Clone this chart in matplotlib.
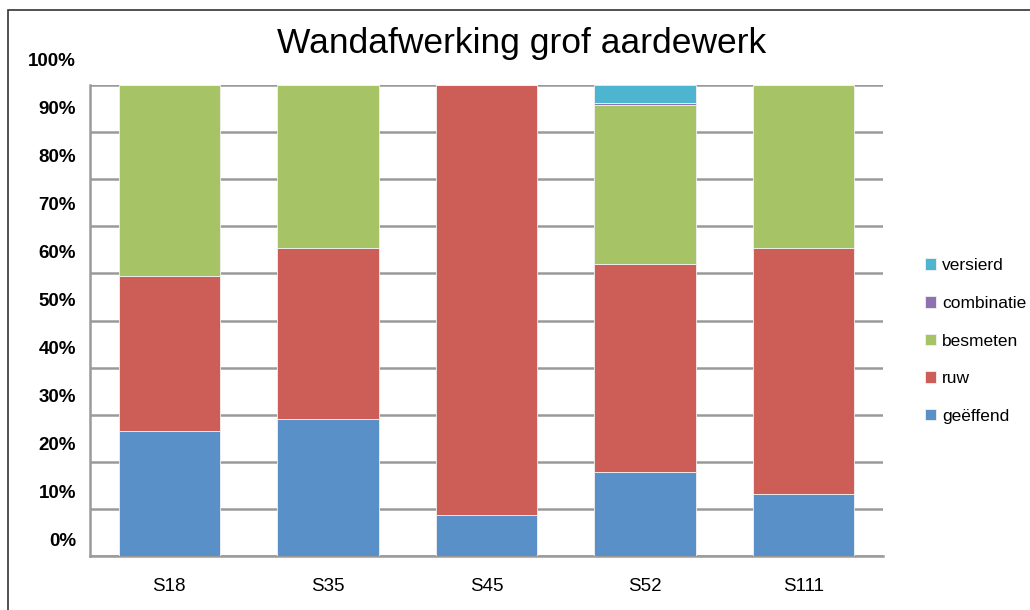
import numpy as np
import matplotlib
matplotlib.use('Agg')
import matplotlib.pyplot as plt
from matplotlib.transforms import ScaledTranslation
from matplotlib.patches import Rectangle

plt.rcParams['font.family'] = ['Liberation Sans', 'DejaVu Sans']

# Percentages per sample
categories = ['S18', 'S35', 'S45', 'S52', 'S111']
geeffend = [26.5, 29.1, 8.7, 17.8, 13.1]
ruw = [32.9, 36.2, 91.3, 44.2, 52.2]
besmeten = [40.6, 34.7, 0.0, 33.7, 34.7]
combinatie = [0.0, 0.0, 0.0, 0.4, 0.0]
versierd = [0.0, 0.0, 0.0, 3.9, 0.0]

series = [('geëffend', geeffend, '#5890C7'),
          ('ruw', ruw, '#CD5E57'),
          ('besmeten', besmeten, '#A6C465'),
          ('combinatie', combinatie, '#8E71B0'),
          ('versierd', versierd, '#4DB5CF')]

fig = plt.figure(figsize=(10.3, 6.1), dpi=100)
ax = fig.add_axes([90/1030, 54/610, 793/1030, 471/610])

x = np.arange(len(categories))
bottom = np.zeros(len(categories))
handles = []
for name, vals, col in series:
    b = ax.bar(x, vals, 0.64, bottom=bottom, color=col, label=name,
               edgecolor='#F2F2F2', linewidth=0.6, zorder=3)
    handles.append(b)
    bottom += np.array(vals)

yt = np.arange(0, 101, 10)
ax.set_xlim(-0.5, len(categories) - 0.5)
ax.set_ylim(0, 100)
ax.set_yticks(yt)
ax.set_yticklabels([f'{v}%' for v in yt], fontsize=13.5, fontweight='bold')
ax.set_xticks(x)
ax.set_xticklabels(categories, fontsize=13.5)
ax.tick_params(axis='both', length=0)
ax.tick_params(axis='y', pad=10)
ax.tick_params(axis='x', pad=16)

# labels in the original sit about half a step above their gridlines
for v, lab in zip(yt, ax.get_yticklabels()):
    off = (17 + v * 0.09) / 100
    lab.set_transform(lab.get_transform() + ScaledTranslation(0, off, fig.dpi_scale_trans))

ax.grid(axis='y', color='#9A9A9A', linewidth=1.8, zorder=0)
for s in ['top', 'right']:
    ax.spines[s].set_visible(False)
for s in ['left', 'bottom']:
    ax.spines[s].set_color('#9A9A9A')
    ax.spines[s].set_linewidth(1.8)

fig.text(522/1030, 1 - 44/610, 'Wandafwerking grof aardewerk',
         fontsize=25.5, ha='center', va='center')

fig.legend(handles[::-1], [s[0] for s in series][::-1],
           loc='center left', bbox_to_anchor=(925/1030, 1 - 341/610),
           frameon=False, fontsize=12.5, handlelength=0.65, handleheight=0.65,
           handletextpad=0.35, labelspacing=1.3, borderpad=0, borderaxespad=0)

# outer chart border
fig.patches.append(Rectangle((8/1030, -0.1), 1.2, 1 - 10/610 + 0.1,
                             transform=fig.transFigure, fill=False,
                             edgecolor='#333333', linewidth=1.2))

fig.savefig('out.png', dpi=100)
